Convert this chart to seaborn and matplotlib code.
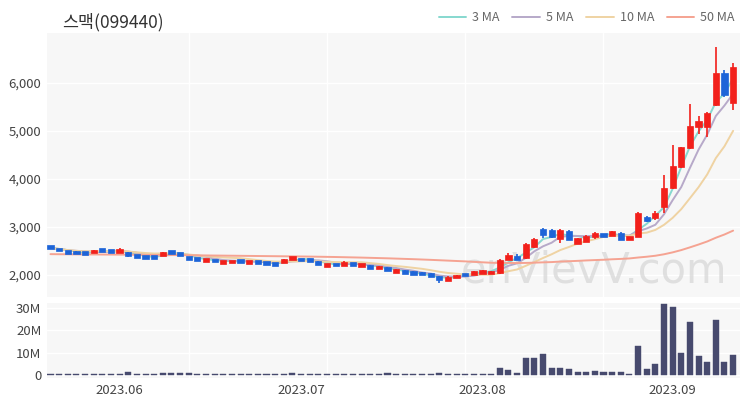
import numpy as np
import pandas as pd
import matplotlib
matplotlib.use('Agg')
from matplotlib import pyplot as plt
import seaborn as sns

# trading days (KRX holidays removed)
holidays = ['2023-05-29', '2023-06-06', '2023-08-15']
dates = pd.bdate_range('2023-05-19', '2023-09-12')
dates = dates[~dates.isin(pd.to_datetime(holidays))]

open_ = [2590, 2545, 2495, 2480, 2470, 2470, 2520, 2505, 2495, 2470,
         2410, 2390, 2385, 2420, 2490, 2450, 2370, 2335, 2310, 2310,
         2260, 2275, 2295, 2265, 2280, 2260, 2235, 2250, 2335, 2330,
         2325, 2290, 2190, 2225, 2210, 2245, 2210, 2200, 2135, 2160,
         2065, 2090, 2075, 2060, 2035, 1980, 1885, 1935, 2015, 2015,
         2035, 2035, 2035, 2320, 2395, 2345, 2590, 2950, 2940, 2745,
         2920, 2650, 2695, 2820, 2840, 2815, 2880, 2735, 2800, 3215,
         3180, 3420, 3820, 4240, 4640, 5090, 5075, 5540, 6210, 5580]
high = [2600, 2550, 2500, 2490, 2475, 2520, 2530, 2515, 2555, 2480,
        2415, 2395, 2395, 2480, 2500, 2460, 2380, 2340, 2340, 2315,
        2285, 2300, 2300, 2285, 2285, 2265, 2240, 2330, 2375, 2335,
        2330, 2295, 2235, 2230, 2300, 2250, 2230, 2205, 2190, 2165,
        2120, 2095, 2080, 2065, 2040, 1985, 1970, 2010, 2030, 2075,
        2095, 2075, 2330, 2460, 2430, 2665, 2775, 2980, 2960, 2955,
        2935, 2770, 2830, 2900, 2850, 2920, 2890, 2800, 3310, 3225,
        3330, 4085, 4710, 4660, 5560, 5310, 5400, 6760, 6280, 6410]
low = [2560, 2510, 2465, 2450, 2440, 2465, 2500, 2490, 2490, 2375,
       2370, 2365, 2365, 2415, 2470, 2410, 2340, 2310, 2300, 2290,
       2255, 2270, 2280, 2255, 2265, 2240, 2200, 2245, 2330, 2310,
       2310, 2210, 2185, 2205, 2205, 2215, 2205, 2145, 2130, 2075,
       2060, 2045, 2015, 1995, 1960, 1840, 1880, 1930, 2000, 2010,
       2030, 2030, 2030, 2310, 2320, 2335, 2570, 2780, 2780, 2660,
       2720, 2640, 2690, 2760, 2820, 2810, 2725, 2725, 2790, 3110,
       3150, 3290, 3800, 4230, 4620, 4940, 4880, 5520, 5700, 5440]
close = [2565, 2520, 2470, 2460, 2450, 2510, 2505, 2495, 2515, 2410,
         2395, 2370, 2370, 2470, 2480, 2420, 2350, 2315, 2325, 2295,
         2275, 2290, 2285, 2275, 2270, 2250, 2215, 2320, 2360, 2315,
         2315, 2215, 2230, 2210, 2250, 2225, 2220, 2150, 2180, 2080,
         2110, 2050, 2025, 2000, 1970, 1895, 1965, 2000, 2005, 2070,
         2090, 2070, 2315, 2415, 2330, 2650, 2760, 2835, 2790, 2945,
         2730, 2765, 2815, 2840, 2830, 2910, 2735, 2795, 3290, 3115,
         3300, 3820, 4270, 4660, 5100, 5210, 5385, 6210, 5750, 6330]
# volume in millions of shares
volume = [0.5, 0.5, 0.4, 0.4, 0.4, 0.4, 0.5, 0.4, 0.5, 1.3,
          0.5, 0.4, 0.4, 1.0, 0.8, 0.8, 0.9, 0.5, 0.5, 0.4,
          0.4, 0.5, 0.4, 0.4, 0.4, 0.5, 0.5, 0.6, 0.8, 0.5,
          0.4, 0.5, 0.4, 0.4, 0.5, 0.4, 0.4, 0.5, 0.5, 0.8,
          0.5, 0.5, 0.5, 0.5, 0.5, 0.9, 0.5, 0.5, 0.5, 0.5,
          0.5, 0.5, 3.2, 2.4, 1.1, 7.4, 7.5, 9.5, 3.2, 3.2,
          2.9, 1.4, 1.5, 1.7, 1.2, 1.5, 1.5, 0.6, 12.8, 2.6,
          4.8, 31.7, 30.2, 9.9, 23.5, 8.3, 6.0, 24.5, 5.7, 9.0]
# 50 MA before a full window is on screen
ma50_early = [2435, 2433, 2432, 2430, 2429, 2428, 2427, 2426, 2425, 2424,
              2422, 2420, 2418, 2417, 2416, 2414, 2412, 2410, 2408, 2406,
              2404, 2402, 2400, 2398, 2396, 2394, 2392, 2390, 2388, 2386,
              2384, 2381, 2378, 2375, 2371, 2367, 2363, 2358, 2353, 2348,
              2342, 2336, 2330, 2323, 2316, 2308, 2300, 2292, 2284]

df = pd.DataFrame({'date': dates, 'open': open_, 'high': high, 'low': low,
                   'close': close, 'volume': np.array(volume) * 1e6})
df['idx'] = np.arange(len(df))
df['ma3'] = df['close'].rolling(3, min_periods=1).mean()
df['ma5'] = df['close'].rolling(5, min_periods=1).mean()
df['ma10'] = df['close'].rolling(10, min_periods=1).mean()
ma50 = df['close'].rolling(50).mean().values
ma50[:len(ma50_early)] = ma50_early
df['ma50'] = ma50

sns.set_theme(style='white', rc={'axes.facecolor': '#f7f7f7'})
plt.rcParams['font.family'] = ['Noto Sans CJK KR', 'DejaVu Sans']

fig = plt.figure(figsize=(7.5, 4), dpi=100)
ax = fig.add_axes([0.0627, 0.2575, 0.924, 0.66])
ax2 = fig.add_axes([0.0627, 0.055, 0.924, 0.1875])

ax.text(0.79, 0.10, 'enVievV.com', transform=ax.transAxes, fontsize=30,
        color='#d5d5d5', alpha=0.7, ha='center', va='center', zorder=1,
        family='DejaVu Sans')

ma_cols = {'ma3': '#86d8cf', 'ma5': '#b7a9c9', 'ma10': '#efd3a3', 'ma50': '#f5a392'}
ma_names = {'ma3': '3 MA', 'ma5': '5 MA', 'ma10': '10 MA', 'ma50': '50 MA'}
for k in ['ma3', 'ma5', 'ma10', 'ma50']:
    sns.lineplot(x='idx', y=k, data=df, ax=ax, color=ma_cols[k], lw=1.4,
                 label=ma_names[k], zorder=2)
handles, labels = ax.get_legend_handles_labels()
ax.get_legend().remove()
leg = fig.legend(handles, labels, ncol=4, loc='upper right', bbox_to_anchor=(0.995, 1.0),
                 frameon=False, fontsize=9, handlelength=2.2, columnspacing=1.0,
                 handletextpad=0.5)
for t in leg.get_texts():
    t.set_color('#666666')

up_col, dn_col = '#f2201b', '#1d64d8'
cols = np.where(df['close'] >= df['open'], up_col, dn_col)
ax.vlines(df['idx'], df['low'], df['high'], colors=cols, lw=1.2, zorder=4)
body = (df['close'] - df['open']).abs().clip(lower=80)
mid = (df['close'] + df['open']) / 2
ax.bar(df['idx'], body, bottom=mid - body / 2, width=0.72, color=cols,
       edgecolor=cols, linewidth=0.5, zorder=4)

sns.barplot(x='idx', y='volume', data=df, ax=ax2, color='#474a6e',
            saturation=1, width=0.7, edgecolor='#474a6e', linewidth=0.3)

month_pos = [df.index[(df['date'].dt.month == m)][0] for m in [6, 7, 8, 9]]
month_lab = ['2023.06', '2023.07', '2023.08', '2023.09']

for a in (ax, ax2):
    a.set_xlim(-0.4, 79.8)
    for s in a.spines.values():
        s.set_visible(False)
    a.set_xlabel('')
    a.set_ylabel('')
    for g in [16, 32, 48, 64]:
        a.axvline(g, color='white', lw=1, zorder=0)
    a.tick_params(length=0, labelsize=9.5, colors='#444444', pad=4)

ax.set_ylim(1542, 7042)
ax.set_yticks([2000, 3000, 4000, 5000, 6000])
ax.set_yticklabels(['2,000', '3,000', '4,000', '5,000', '6,000'])
ax.yaxis.grid(True, color='white', lw=1)
ax.set_axisbelow(True)
ax.set_xticks([])

ax2.set_ylim(-1.3e6, 32e6)
ax2.set_yticks([0, 10e6, 20e6, 30e6])
ax2.set_yticklabels(['0', '10M', '20M', '30M'])
ax2.yaxis.grid(True, color='white', lw=1)
ax2.set_axisbelow(True)
ax2.set_xticks(month_pos)
ax2.set_xticklabels(month_lab)

fig.text(0.083, 0.945, '스맥(099440)', fontsize=12.5, color='#333333',
         va='center', ha='left')

fig.savefig('out.png', dpi=100)
